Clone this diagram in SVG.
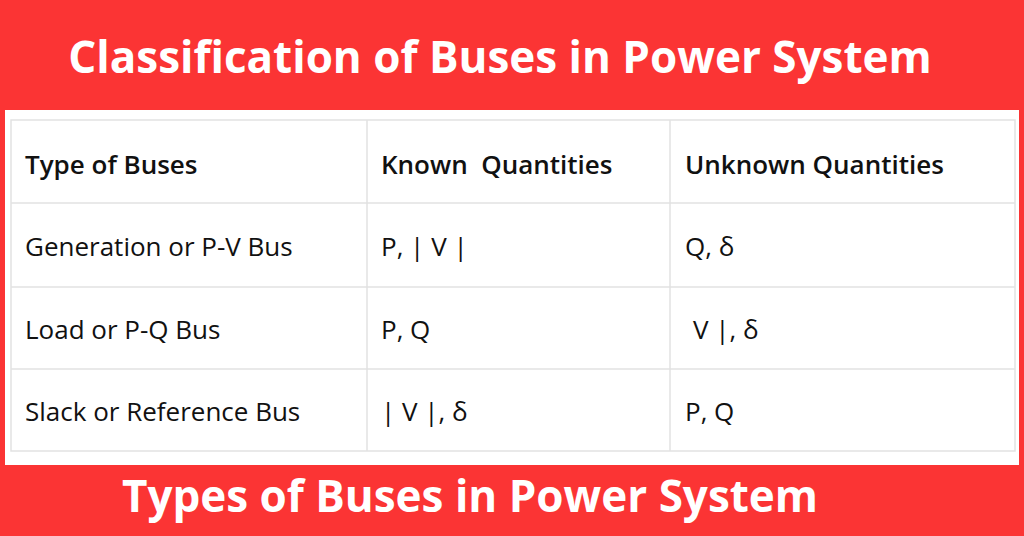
<svg xmlns="http://www.w3.org/2000/svg" width="1024" height="536" viewBox="0 0 1024 536">
<style>
.t{font-family:"Open Sans","Noto Sans",sans-serif;font-size:26px;fill:#111}
.h{font-weight:600}
.ti{font-family:"Open Sans","Noto Sans",sans-serif;font-size:44px;font-weight:700;fill:#fff;text-anchor:middle}
.g{stroke:#e2e2e2;stroke-width:1.5;fill:none}
</style>
<rect width="1024" height="536" fill="#fb3434"/>
<text class="ti" x="500" y="73">Classification of Buses in Power System</text>
<rect x="5" y="110" width="1014" height="355" fill="#fff"/>
<g id="table">
<rect class="g" x="11" y="120" width="1004" height="331"/>
<path class="g" d="M11 203H1015M11 287H1015M11 369H1015M367 120V451M670 120V451"/>
</g>
<g id="header">
<text class="t h" x="25" y="174">Type of Buses</text>
<text class="t h" x="381" y="174" xml:space="preserve">Known  Quantities</text>
<text class="t h" x="685" y="174">Unknown Quantities</text>
</g>
<g id="row1">
<text class="t" x="25" y="256">Generation or P-V Bus</text>
<text class="t" x="381" y="256">P, | V |</text>
<text class="t" x="685" y="256">Q, δ</text>
</g>
<g id="row2">
<text class="t" x="25" y="339">Load or P-Q Bus</text>
<text class="t" x="381" y="339">P, Q</text>
<text class="t" x="693" y="339">V |, δ</text>
</g>
<g id="row3">
<text class="t" x="25" y="421">Slack or Reference Bus</text>
<text class="t" x="381" y="421">| V |, δ</text>
<text class="t" x="685" y="421">P, Q</text>
</g>
<text class="ti" x="470" y="512">Types of Buses in Power System</text>
</svg>
